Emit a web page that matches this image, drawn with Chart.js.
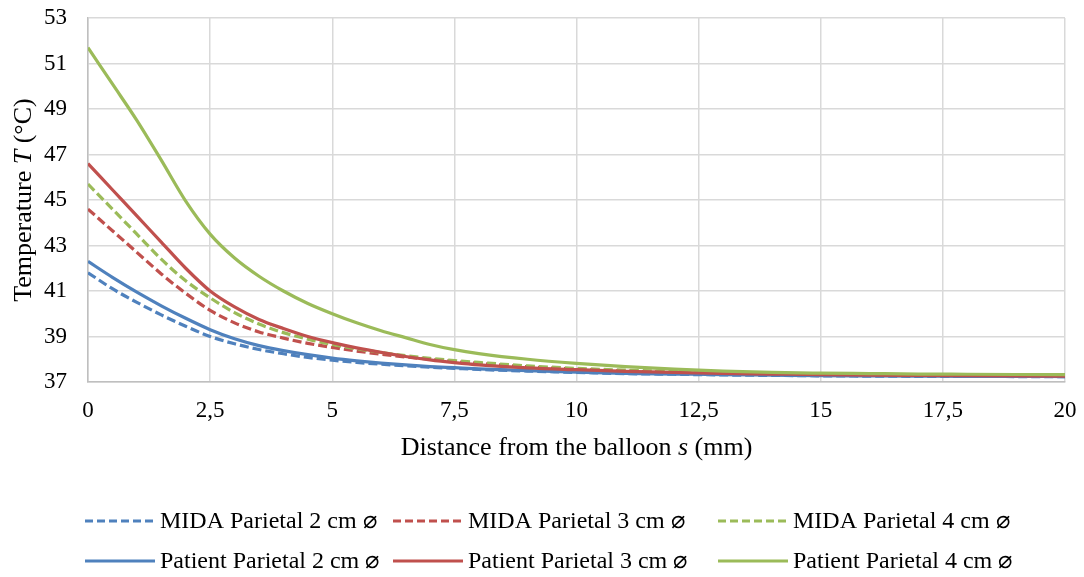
<!DOCTYPE html>
<html>
<head>
<meta charset="utf-8">
<script src="https://cdn.jsdelivr.net/npm/chart.js@4/dist/chart.umd.min.js"></script>
<style>
  html, body { margin: 0; padding: 0; background: #fff; }
</style>
</head>
<body>
<canvas id="chart" width="1084" height="577"></canvas>
<script>
// distance from the balloon (mm)
const distance = [0, 0.5, 1, 1.5, 2, 2.5, 3, 3.5, 4, 4.5, 5, 5.5, 6, 6.5, 7, 7.5, 8,
  9, 10, 11, 12, 13, 14, 15, 16, 17, 18, 19, 20];

// temperatures (°C)
const midaP2 = [41.8, 41.1, 40.5, 39.95, 39.45, 39.0, 38.68, 38.43, 38.24, 38.08, 37.96, 37.86, 37.78, 37.71, 37.65, 37.6, 37.55,
  37.48, 37.42, 37.37, 37.34, 37.31, 37.29, 37.27, 37.26, 37.25, 37.25, 37.24, 37.24];
const midaP3 = [44.6, 43.65, 42.7, 41.75, 40.9, 40.15, 39.6, 39.2, 38.93, 38.7, 38.52, 38.36, 38.22, 38.1, 38.0, 37.9, 37.82,
  37.67, 37.56, 37.48, 37.42, 37.38, 37.35, 37.32, 37.3, 37.28, 37.27, 37.26, 37.25];
const midaP4 = [45.7, 44.6, 43.5, 42.4, 41.45, 40.7, 40.05, 39.55, 39.17, 38.88, 38.65, 38.46, 38.3, 38.16, 38.04, 37.94, 37.86,
  37.71, 37.6, 37.52, 37.46, 37.42, 37.38, 37.35, 37.33, 37.31, 37.3, 37.29, 37.28];
const patientP2 = [42.3, 41.6, 40.95, 40.35, 39.8, 39.3, 38.9, 38.6, 38.38, 38.2, 38.05, 37.93, 37.83, 37.75, 37.68, 37.63, 37.58,
  37.5, 37.43, 37.38, 37.35, 37.32, 37.3, 37.28, 37.27, 37.26, 37.25, 37.25, 37.24];
const patientP3 = [46.6, 45.45, 44.3, 43.15, 42.0, 41.0, 40.3, 39.75, 39.35, 39.0, 38.73, 38.5, 38.3, 38.12, 37.97, 37.85, 37.75,
  37.62, 37.54, 37.47, 37.42, 37.38, 37.35, 37.32, 37.3, 37.29, 37.28, 37.27, 37.26];
const patientP4 = [51.7, 50.1, 48.5, 46.75, 44.95, 43.5, 42.45, 41.65, 41.0, 40.45, 40.0, 39.6, 39.25, 38.95, 38.65, 38.42, 38.25,
  38.0, 37.82, 37.68, 37.57, 37.48, 37.42, 37.39, 37.37, 37.35, 37.34, 37.33, 37.32];

const seriesNames = ["MIDA Parietal 2 cm \u2300", "MIDA Parietal 3 cm \u2300", "MIDA Parietal 4 cm \u2300",
  "Patient Parietal 2 cm \u2300", "Patient Parietal 3 cm \u2300", "Patient Parietal 4 cm \u2300"];
const seriesValues = [midaP2, midaP3, midaP4, patientP2, patientP3, patientP4];

const BLUE = "#4F81BD", RED = "#C0504D", GREEN = "#9BBB59";
const seriesColors = [BLUE, RED, GREEN, BLUE, RED, GREEN];
const DASH = [9, 4];
const FONT = "'Liberation Serif', 'Times New Roman', serif";

const datasets = seriesValues.map((vals, i) => ({
  label: seriesNames[i],
  data: vals.map((v, k) => ({ x: distance[k], y: v })),
  borderColor: seriesColors[i],
  backgroundColor: seriesColors[i],
  borderWidth: 3.2,
  borderDash: i < 3 ? DASH : [],
  pointRadius: 0,
  tension: 0.4,
  cubicInterpolationMode: "monotone",
  fill: false,
  order: 6 - i   // later series on top, like the original
}));

// draws axis titles (with italic symbols) and the legend below the plot
const decorations = {
  id: "decorations",
  afterDraw(chart) {
    const ctx = chart.ctx;
    const area = chart.chartArea;

    function mixed(parts, cx, cy, size) {
      let total = 0;
      parts.forEach(p => {
        ctx.font = (p[1] ? "italic " : "") + size + "px " + FONT;
        total += ctx.measureText(p[0]).width;
      });
      let x = cx - total / 2;
      ctx.textBaseline = "middle";
      ctx.textAlign = "left";
      parts.forEach(p => {
        ctx.font = (p[1] ? "italic " : "") + size + "px " + FONT;
        ctx.fillText(p[0], x, cy);
        x += ctx.measureText(p[0]).width;
      });
    }

    ctx.save();
    ctx.fillStyle = "#000";
    mixed([["Distance from the balloon ", false], ["s", true], [" (mm)", false]],
      (area.left + area.right) / 2, 448, 26);

    ctx.save();
    ctx.translate(24, (area.top + area.bottom) / 2);
    ctx.rotate(-Math.PI / 2);
    mixed([["Temperature ", false], ["T", true], [" (\u00B0C)", false]], 0, 0, 26);
    ctx.restore();

    // legend
    const colX = [85, 393, 718];
    const rowY = [521, 561];
    seriesNames.forEach((name, i) => {
      const x = colX[i % 3];
      const y = rowY[Math.floor(i / 3)];
      ctx.beginPath();
      ctx.strokeStyle = seriesColors[i];
      ctx.lineWidth = 3;
      ctx.setLineDash(i < 3 ? [8, 4] : []);
      ctx.moveTo(x, y);
      ctx.lineTo(x + 70, y);
      ctx.stroke();
      ctx.setLineDash([]);
      ctx.font = "24px " + FONT;
      ctx.fillStyle = "#000";
      ctx.textAlign = "left";
      ctx.textBaseline = "middle";
      ctx.fillText(name, x + 75, y + 1);
    });
    ctx.restore();
  }
};

new Chart(document.getElementById("chart"), {
  type: "line",
  data: { datasets },
  options: {
    responsive: false,
    animation: false,
    layout: { padding: { left: 0, top: 18, right: 19, bottom: 0 } },
    plugins: { legend: { display: false }, tooltip: { enabled: false } },
    scales: {
      x: {
        type: "linear",
        min: 0,
        max: 20,
        afterFit: s => { s.height = 195; s.paddingLeft = 0; s.paddingRight = 0; },
        ticks: {
          stepSize: 2.5,
          padding: 15,
          color: "#000",
          font: { family: FONT, size: 23 },
          maxRotation: 0,
          callback: v => String(v).replace(".", ",")
        },
        grid: { color: "#D9D9D9", lineWidth: 1.5, drawTicks: false },
        border: { color: "#BFBFBF", width: 1.5 }
      },
      y: {
        min: 37,
        max: 53,
        afterFit: s => { s.width = 88; s.paddingTop = 0; s.paddingBottom = 0; },
        ticks: {
          stepSize: 2,
          padding: 21,
          color: "#000",
          font: { family: FONT, size: 23 }
        },
        grid: { color: "#D9D9D9", lineWidth: 1.5, drawTicks: false },
        border: { color: "#BFBFBF", width: 1.5 }
      }
    }
  },
  plugins: [decorations]
});
</script>
</body>
</html>
